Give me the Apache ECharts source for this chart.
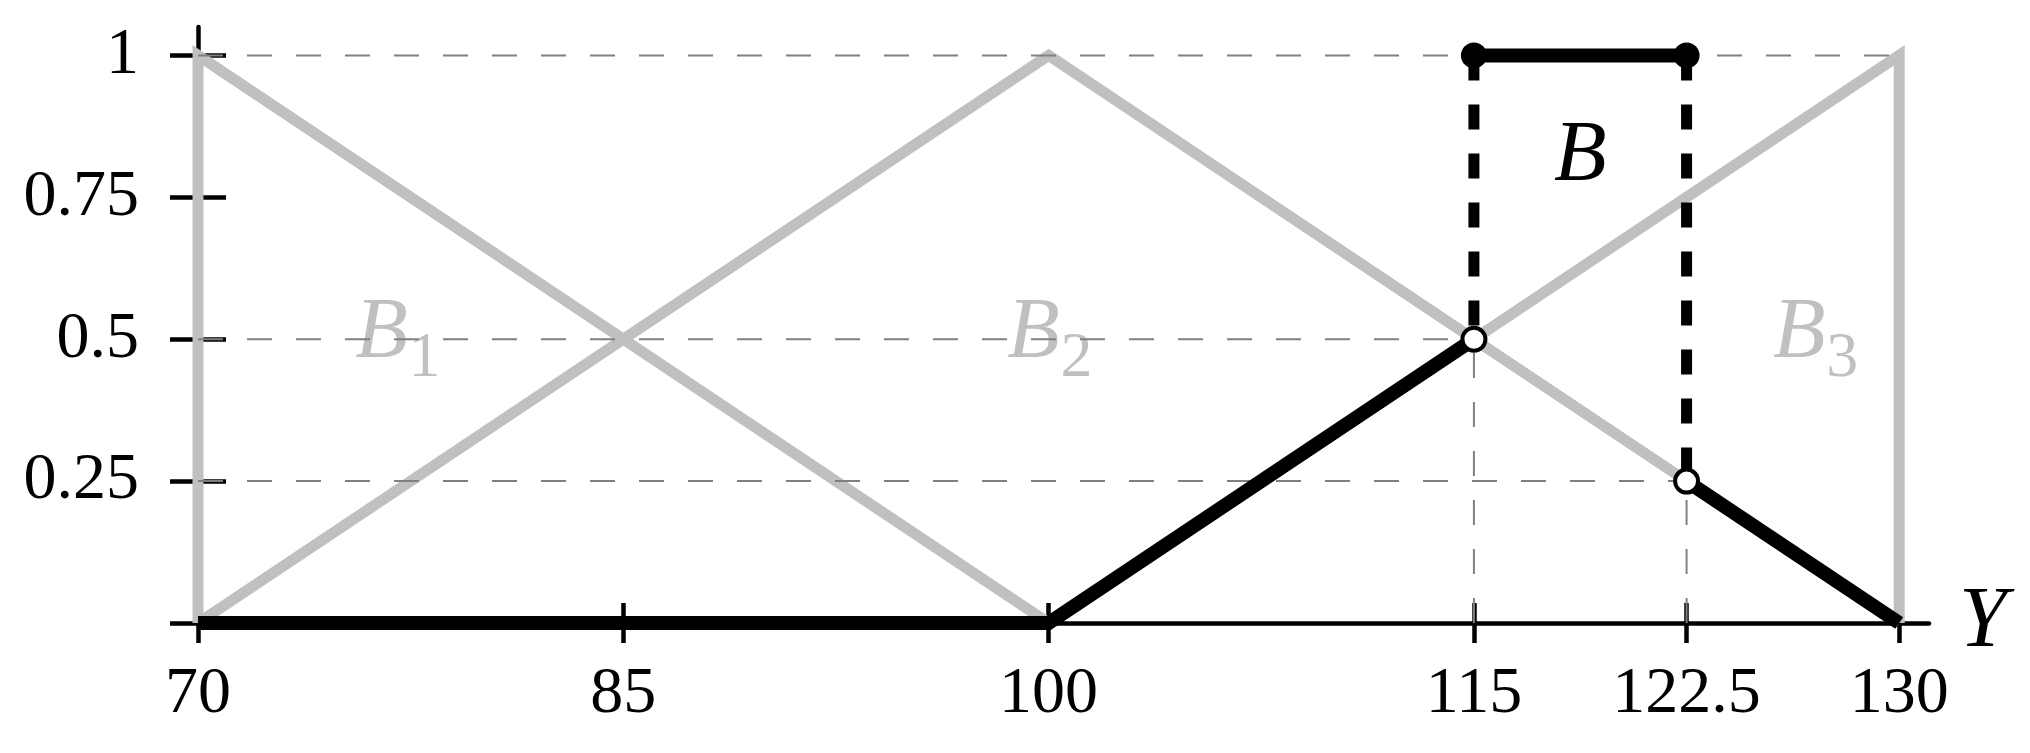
<!DOCTYPE html>
<html>
<head>
<meta charset="utf-8">
<script src="https://cdn.jsdelivr.net/npm/echarts@6/dist/echarts.min.js"></script>
<style>
  html, body { margin: 0; padding: 0; background: #fff; }
  #chart { width: 2030px; height: 753px; }
</style>
</head>
<body>
<div id="chart"></div>
<script>
  // axis ticks
  var xTicks = [70, 85, 100, 115, 122.5, 130];
  var yTicks = [0, 0.25, 0.5, 0.75, 1];
  var yTickLabels = [0.25, 0.5, 0.75, 1];

  // membership functions B1, B2, B3 (grey)
  var b1 = [[70, 0], [70, 1], [100, 0]];
  var b2 = [[70, 0], [100, 1], [130, 0]];
  var b3 = [[100, 0], [130, 1], [130, 0]];

  // output set B (black)
  var bBase = [[70, 0], [100, 0], [115, 0.5]];
  var bTail = [[122.5, 0.25], [130, 0]];
  var bTop = [[115, 1], [122.5, 1]];
  var bLeftJump = [[115, 1], [115, 0.5]];
  var bRightJump = [[122.5, 1], [122.5, 0.25]];
  var openPoints = [[115, 0.5], [122.5, 0.25]];

  // thin dashed guide lines
  var guides = [
    [[70, 1], [130, 1]],
    [[70, 0.5], [115, 0.5]],
    [[70, 0.25], [122.5, 0.25]],
    [[115, 0], [115, 0.5]],
    [[122.5, 0], [122.5, 0.25]]
  ];

  // set names
  var greyNames = ['1', '2', '3'];
  var greyNamePos = [[77, 0.5], [100, 0.5], [127, 0.5]];
  var bNamePos = [[118.75, 0.82]];

  var FONT = 'Liberation Serif';
  var GREY = '#c0c0c0';

  var myChart = echarts.init(document.getElementById('chart'));

  var series = [];

  // grey triangles
  [b1, b2, b3].forEach(function (d) {
    series.push({
      type: 'line', data: d, symbol: 'none', z: 2, silent: true,
      lineStyle: { color: GREY, width: 11, cap: 'butt', join: 'miter' }
    });
  });

  // "B" letters of B1..B3
  series.push({
    type: 'scatter', z: 2, silent: true, symbolSize: 0,
    itemStyle: { opacity: 1 },
    data: greyNamePos,
    label: {
      show: true, position: 'inside', offset: [-15, -5],
      formatter: 'B',
      fontFamily: FONT, fontStyle: 'italic', fontSize: 86, color: GREY
    }
  });
  // subscripts
  series.push({
    type: 'scatter', z: 2, silent: true, symbolSize: 0,
    itemStyle: { opacity: 1 },
    data: greyNamePos,
    label: {
      show: true, position: 'inside', offset: [28, 20],
      formatter: function (p) { return greyNames[p.dataIndex]; },
      fontFamily: FONT, fontSize: 64, color: GREY
    }
  });

  // dashed guides
  guides.forEach(function (d) {
    series.push({
      type: 'line', data: d, symbol: 'none', z: 3, silent: true,
      lineStyle: { color: '#808080', width: 2, type: [25, 24] }
    });
  });

  // black pieces
  [bBase, bTail, bTop].forEach(function (d) {
    series.push({
      type: 'line', data: d, symbol: 'none', z: 4, silent: true,
      lineStyle: { color: '#000', width: 14, cap: 'butt', join: 'miter' }
    });
  });
  [bLeftJump, bRightJump].forEach(function (d) {
    series.push({
      type: 'line', data: d, symbol: 'none', z: 4, silent: true,
      lineStyle: { color: '#000', width: 11, type: [25, 24] }
    });
  });

  // label of B
  series.push({
    type: 'scatter', z: 4, silent: true, symbolSize: 0,
    itemStyle: { opacity: 1 },
    data: bNamePos,
    label: {
      show: true, position: 'inside', formatter: 'B',
      fontFamily: FONT, fontStyle: 'italic', fontSize: 86, color: '#000'
    }
  });

  // closed dots on top
  series.push({
    type: 'scatter', data: bTop, z: 5, silent: true,
    symbol: 'circle', symbolSize: 26,
    itemStyle: { color: '#000', opacity: 1 }
  });
  // open dots
  series.push({
    type: 'scatter', data: openPoints, z: 5, silent: true,
    symbol: 'circle', symbolSize: 23,
    itemStyle: { color: '#fff', borderColor: '#000', borderWidth: 4, opacity: 1 }
  });

  var axisFont = { fontFamily: FONT, fontSize: 66, color: '#000' };

  var option = {
    animation: false,
    backgroundColor: '#fff',
    grid: { left: 198, right: 101, top: 27, bottom: 130, containLabel: false, outerBoundsMode: 'none' },
    xAxis: [{
      type: 'value', min: 70, max: 131.05,
      name: 'Y', nameLocation: 'end', nameGap: 30,
      nameTextStyle: { fontFamily: FONT, fontStyle: 'italic', fontSize: 86, color: '#000', align: 'left', verticalAlign: 'middle' },
      axisLine: { show: true, lineStyle: { color: '#000', width: 4.5 } },
      axisTick: { show: true, customValues: xTicks, length: 20, lineStyle: { color: '#000', width: 4.5 } },
      axisLabel: Object.assign({ customValues: xTicks, margin: 72, verticalAlign: 'middle' }, axisFont),
      splitLine: { show: false }
    }, {
      type: 'value', min: 70, max: 131.05, position: 'bottom',
      axisLine: { show: false },
      axisTick: { show: true, inside: true, customValues: xTicks, length: 20, lineStyle: { color: '#000', width: 4.5 } },
      axisLabel: { show: false },
      splitLine: { show: false }
    }],
    yAxis: [{
      type: 'value', min: 0, max: 1.05,
      axisLine: { show: true, lineStyle: { color: '#000', width: 4.5 } },
      axisTick: { show: true, customValues: yTicks, length: 28, lineStyle: { color: '#000', width: 4.5 } },
      axisLabel: Object.assign({ customValues: yTickLabels, margin: 59 }, axisFont),
      splitLine: { show: false }
    }, {
      type: 'value', min: 0, max: 1.05, position: 'left',
      axisLine: { show: false },
      axisTick: { show: true, inside: true, customValues: yTicks, length: 28, lineStyle: { color: '#000', width: 4.5 } },
      axisLabel: { show: false },
      splitLine: { show: false }
    }],
    series: series
  };

  myChart.setOption(option);
</script>
</body>
</html>
